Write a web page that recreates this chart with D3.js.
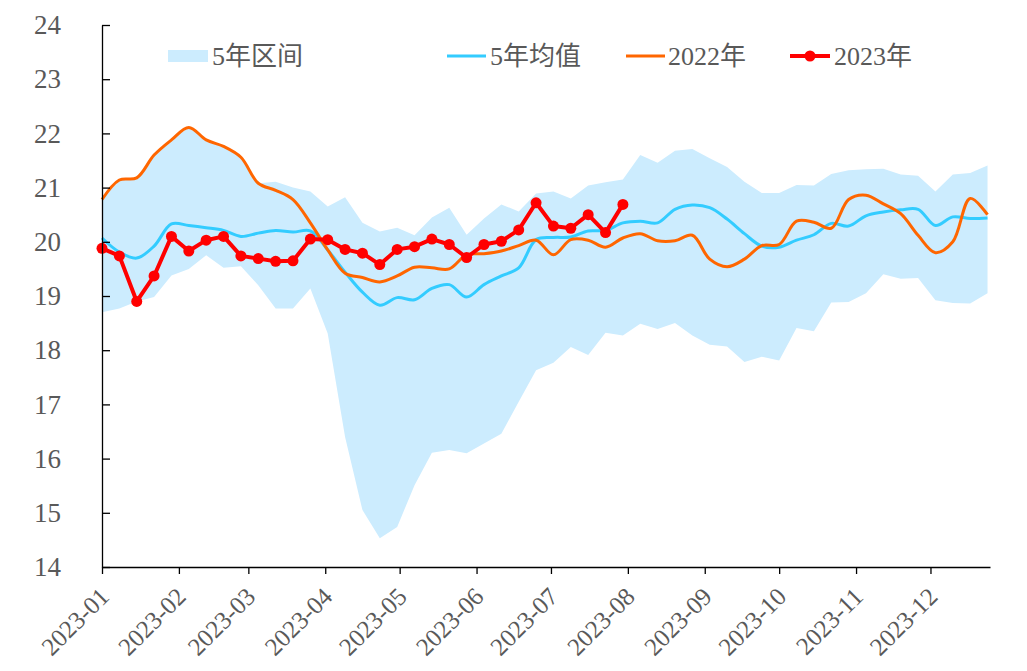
<!DOCTYPE html>
<html>
<head>
<meta charset="utf-8">
<script src="https://cdn.jsdelivr.net/npm/d3@7/dist/d3.min.js"></script>
<style>
  html, body { margin: 0; padding: 0; background: #fff; }
  svg text { font-family: "Liberation Serif", "Times New Roman", "Noto Sans CJK SC", serif; fill: #595959; }
</style>
</head>
<body>
<svg id="chart" width="1027" height="671"></svg>
<script>
// ---- data ----
const weeks = [
  "2023-01-01","2023-01-08","2023-01-15","2023-01-22","2023-01-29",
  "2023-02-05","2023-02-12","2023-02-19","2023-02-26",
  "2023-03-05","2023-03-12","2023-03-19","2023-03-26",
  "2023-04-02","2023-04-09","2023-04-16","2023-04-23","2023-04-30",
  "2023-05-07","2023-05-14","2023-05-21","2023-05-28",
  "2023-06-04","2023-06-11","2023-06-18","2023-06-25",
  "2023-07-02","2023-07-09","2023-07-16","2023-07-23","2023-07-30",
  "2023-08-06","2023-08-13","2023-08-20","2023-08-27",
  "2023-09-03","2023-09-10","2023-09-17","2023-09-24",
  "2023-10-01","2023-10-08","2023-10-15","2023-10-22","2023-10-29",
  "2023-11-05","2023-11-12","2023-11-19","2023-11-26",
  "2023-12-03","2023-12-10","2023-12-17","2023-12-24"
];
const bandUpper = [20.78,21.14,21.18,21.60,21.88,22.11,21.88,21.76,21.58,21.08,
  21.11,21.00,20.93,20.65,20.82,20.35,20.19,20.26,20.12,20.45,
  20.63,20.13,20.43,20.69,20.56,20.89,20.93,20.80,21.04,21.10,
  21.15,21.60,21.46,21.68,21.71,21.54,21.38,21.11,20.90,20.90,
  21.05,21.04,21.25,21.32,21.34,21.35,21.24,21.22,20.93,21.24,
  21.27,21.41];
const bandLower = [18.70,18.77,18.90,18.98,19.38,19.50,19.75,19.52,19.55,19.20,
  18.77,18.77,19.14,18.31,16.40,15.05,14.53,14.74,15.51,16.11,
  16.16,16.10,16.28,16.46,17.05,17.63,17.77,18.06,17.91,18.32,
  18.27,18.49,18.39,18.50,18.27,18.10,18.07,17.78,17.88,17.81,
  18.41,18.35,18.88,18.89,19.05,19.40,19.32,19.33,18.92,18.87,
  18.86,19.05];
const avg5 = [20.07,19.81,19.70,19.92,20.33,20.30,20.26,20.21,20.10,20.16,
  20.21,20.18,20.20,19.85,19.44,19.07,18.83,18.97,18.93,19.14,
  19.21,18.98,19.21,19.37,19.52,20.04,20.08,20.09,20.20,20.21,
  20.35,20.38,20.35,20.60,20.68,20.63,20.42,20.15,19.92,19.90,
  20.03,20.13,20.34,20.29,20.48,20.55,20.59,20.60,20.30,20.46,
  20.43,20.44];
const y2022 = [20.78,21.14,21.18,21.60,21.88,22.11,21.88,21.76,21.56,21.08,
  20.95,20.78,20.35,19.85,19.42,19.34,19.26,19.37,19.53,19.52,
  19.50,19.76,19.78,19.83,19.93,20.03,19.76,20.04,20.03,19.90,
  20.07,20.15,20.02,20.02,20.12,19.68,19.54,19.68,19.93,19.95,
  20.38,20.36,20.25,20.78,20.86,20.70,20.52,20.12,19.80,20.00,
  20.80,20.50];
const y2023 = [19.88,19.74,18.90,19.37,20.10,19.83,20.03,20.10,19.74,19.69,
  19.64,19.65,20.05,20.04,19.86,19.79,19.58,19.86,19.91,20.05,
  19.95,19.71,19.95,20.01,20.22,20.72,20.29,20.25,20.50,20.17,
  20.69];
const yTicks = [14,15,16,17,18,19,20,21,22,23,24];
const legendLabels = ["5年区间","5年均值","2022年","2023年"];

// ---- scales ----
const parse = d3.timeParse("%Y-%m-%d");
const dates = weeks.map(parse);
const svg = d3.select("#chart");
const x = d3.scaleTime()
  .domain([parse("2023-01-01"), parse("2023-12-25")])
  .range([102, 990]);
const y = d3.scaleLinear().domain([14, 24]).range([567, 25]);

const colors = { band: "#CCECFE", avg: "#33CCFF", y22: "#FF6600", y23: "#FF0000" };

// band
const bandData = dates.map((d, i) => ({ d, lo: bandLower[i], hi: bandUpper[i] }));
svg.append("path")
  .datum(bandData)
  .attr("fill", colors.band)
  .attr("d", d3.area().x(p => x(p.d)).y0(p => y(p.lo)).y1(p => y(p.hi)));

// 5yr avg
svg.append("path")
  .datum(avg5.map((v, i) => ({ d: dates[i], v })))
  .attr("fill", "none").attr("stroke", colors.avg).attr("stroke-width", 3)
  .attr("d", d3.line().x(p => x(p.d)).y(p => y(p.v)).curve(d3.curveCatmullRom.alpha(0.5)));

// 2022
svg.append("path")
  .datum(y2022.map((v, i) => ({ d: dates[i], v })))
  .attr("fill", "none").attr("stroke", colors.y22).attr("stroke-width", 3)
  .attr("d", d3.line().x(p => x(p.d)).y(p => y(p.v)).curve(d3.curveCatmullRom.alpha(0.5)));

// 2023
const d23 = y2023.map((v, i) => ({ d: dates[i], v }));
svg.append("path")
  .datum(d23)
  .attr("fill", "none").attr("stroke", colors.y23).attr("stroke-width", 4)
  .attr("stroke-linejoin", "round")
  .attr("d", d3.line().x(p => x(p.d)).y(p => y(p.v)));
svg.append("g").selectAll("circle").data(d23).join("circle")
  .attr("cx", p => x(p.d)).attr("cy", p => y(p.v)).attr("r", 5.5)
  .attr("fill", colors.y23);

// axes
const yAxis = svg.append("g").attr("transform", "translate(102,0)")
  .call(d3.axisLeft(y).tickValues(yTicks).tickSizeInner(-8).tickSizeOuter(0).tickPadding(41).tickFormat(d3.format("d")));
yAxis.select(".domain").attr("stroke", "#000").attr("stroke-width", 1.3);
yAxis.selectAll(".tick line").attr("stroke", "#000").attr("stroke-width", 1.3);
yAxis.selectAll(".tick text").style("font-size", "27px").attr("fill", "#595959");

const xAxis = svg.append("g").attr("transform", "translate(0,567)")
  .call(d3.axisBottom(x).ticks(d3.timeMonth.every(1)).tickSizeInner(7).tickSizeOuter(0).tickFormat(d3.timeFormat("%Y-%m")));
xAxis.select(".domain").attr("stroke", "#000").attr("stroke-width", 1.3);
xAxis.selectAll(".tick line").attr("stroke", "#000").attr("stroke-width", 1.3);
xAxis.selectAll(".tick text")
  .style("font-size", "25px").attr("fill", "#595959")
  .attr("text-anchor", "end")
  .attr("dy", "0")
  .attr("transform", "translate(1,24) rotate(-45)");

// legend
const lg = svg.append("g");
lg.append("rect").attr("x", 168).attr("y", 50).attr("width", 40).attr("height", 12).attr("fill", colors.band);
lg.append("text").attr("x", 212).attr("y", 56).attr("dominant-baseline", "central").style("font-size", "26px").text(legendLabels[0]);
lg.append("line").attr("x1", 447).attr("x2", 486).attr("y1", 56).attr("y2", 56).attr("stroke", colors.avg).attr("stroke-width", 3);
lg.append("text").attr("x", 490).attr("y", 56).attr("dominant-baseline", "central").style("font-size", "26px").text(legendLabels[1]);
lg.append("line").attr("x1", 626).attr("x2", 665).attr("y1", 56).attr("y2", 56).attr("stroke", colors.y22).attr("stroke-width", 3);
lg.append("text").attr("x", 668).attr("y", 56).attr("dominant-baseline", "central").style("font-size", "26px").text(legendLabels[2]);
lg.append("line").attr("x1", 790).attr("x2", 830).attr("y1", 56).attr("y2", 56).attr("stroke", colors.y23).attr("stroke-width", 4);
lg.append("circle").attr("cx", 810).attr("cy", 56).attr("r", 5.5).attr("fill", colors.y23);
lg.append("text").attr("x", 834).attr("y", 56).attr("dominant-baseline", "central").style("font-size", "26px").text(legendLabels[3]);
</script>
</body>
</html>
